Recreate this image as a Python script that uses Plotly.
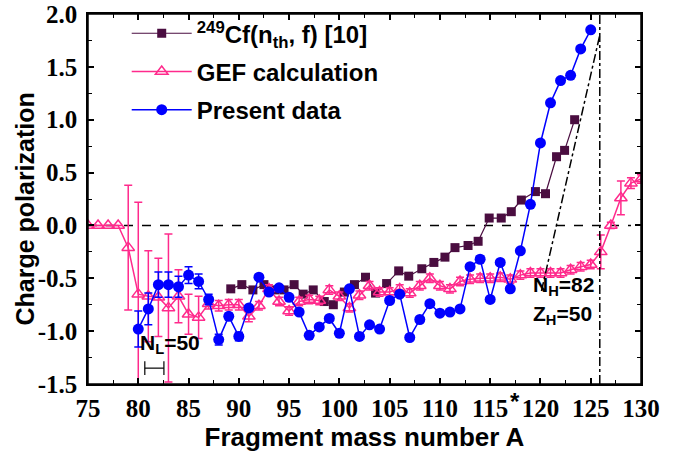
import plotly.graph_objects as go

# ---------------- data ----------------
A_present = list(range(80, 126))
present = [-0.98, -0.79, -0.56, -0.56, -0.58, -0.47, -0.53, -0.70, -1.08, -0.86,
           -1.05, -0.78, -0.49, -0.63, -0.59, -0.68, -0.82, -1.04, -0.96, -0.88,
           -1.02, -0.60, -1.05, -0.94, -0.98, -0.71, -0.65, -1.06, -0.89, -0.74,
           -0.83, -0.82, -0.79, -0.39, -0.32, -0.70, -0.35, -0.60, -0.24, 0.20,
           0.78, 1.16, 1.37, 1.42, 1.67, 1.85]
present_err = [0.17, 0.15, 0.12, 0.12, 0.10, 0.08, 0.07, 0.05, 0.05, 0.03,
               0.04] + [0.02] * 35

A_gef = list(range(75, 131))
gef = [0.0, 0.0, 0.0, 0.0, -0.21, -0.65, -0.67, -0.68, -0.78, -0.67,
       -0.84, -0.87, -0.74, -0.76, -0.75, -0.75, -0.86, -0.76, -0.60, -0.72,
       -0.81, -0.72, -0.70, -0.71, -0.61, -0.67, -0.78, -0.66, -0.57, -0.63,
       -0.63, -0.60, -0.64, -0.57, -0.50, -0.57, -0.60, -0.53, -0.51, -0.50,
       -0.50, -0.49, -0.51, -0.47, -0.45, -0.45, -0.45, -0.45, -0.42, -0.39,
       -0.37, -0.25, 0.0, 0.26, 0.40, 0.44]
gef_err = [0.0, 0.0, 0.0, 0.0, 0.59, 0.87, 0.43, 0.37, 0.70, 0.25,
           0.19, 0.20, 0.05, 0.05, 0.05, 0.05, 0.05] + [0.04] * 34 + [0.16, 0.03, 0.16, 0.05, 0.04]

A_cf = [89.2, 90.3, 91.4, 92.5, 93.6, 94.5, 95.5, 96.4, 97.4, 98.5, 99.4,
        100.5, 101.5, 102.6, 103.6, 104.7, 105.9, 106.9, 108.2, 109.4, 110.5,
        111.5, 112.8, 113.8, 114.9, 116.1, 117.1, 118.1, 119.5, 120.5, 121.6,
        122.4, 123.4]
cf = [-0.60, -0.56, -0.61, -0.56, -0.61, -0.61, -0.56, -0.65, -0.61, -0.72,
      -0.75, -0.63, -0.56, -0.49, -0.64, -0.55, -0.43, -0.48, -0.41, -0.35,
      -0.30, -0.21, -0.19, -0.15, 0.07, 0.07, 0.13, 0.24, 0.32, 0.30,
      0.65, 0.71, 1.00]

x_ticks = list(range(75, 131, 5))
x_ticktext = [str(v) for v in x_ticks]
y_ticks = [-1.5, -1.0, -0.5, 0.0, 0.5, 1.0, 1.5, 2.0]
y_ticktext = ["-1.5", "-1.0", "-0.5", "0.0", "0.5", "1.0", "1.5", "2.0"]

# guide lines (data coordinates)
zero_line_x = [75, 129]
shell_A = 125.9
diag_x = [120.1, 125.9]
diag_y = [-0.62, 1.80]
nl_bracket_x = [80.65, 82.55]
nl_bracket_y = -1.35

C_CF = "#4a0d40"
C_GEF = "#ff2a8c"
C_PRES = "#0000ff"

fig = go.Figure()

fig.add_trace(go.Scatter(
    x=A_cf, y=cf, mode="lines+markers", name="<sup>249</sup>Cf(n<sub>th</sub>, f) [10]",
    legendgroup="cf",
    line=dict(color=C_CF, width=1.2),
    marker=dict(symbol="square", size=9, color=C_CF),
))
fig.add_trace(go.Scatter(
    x=A_gef, y=gef, mode="lines+markers", name="GEF calculation",
    legendgroup="gef",
    line=dict(color=C_GEF, width=1.5),
    marker=dict(symbol="triangle-up-open", size=11, color=C_GEF, line=dict(width=1.5)),
    error_y=dict(type="data", array=gef_err, color=C_GEF, thickness=1.5, width=4),
))
fig.add_trace(go.Scatter(
    x=A_present, y=present, mode="lines+markers", name="Present data",
    legendgroup="pres",
    line=dict(color=C_PRES, width=1.5),
    marker=dict(symbol="circle", size=11, color=C_PRES),
    error_y=dict(type="data", array=present_err, color=C_PRES, thickness=1.5, width=4),
))

shapes = [
    dict(type="rect", xref="paper", yref="paper", x0=0, x1=1, y0=0, y1=1,
         line=dict(color="black", width=1.5), layer="above"),
    dict(type="line", xref="x", yref="y", x0=zero_line_x[0], x1=zero_line_x[1], y0=0, y1=0,
         line=dict(color="black", width=1.5, dash="dash"), layer="below"),
    dict(type="line", xref="x", yref="paper", x0=shell_A, x1=shell_A, y0=0, y1=1,
         line=dict(color="black", width=1.5, dash="dashdot")),
    dict(type="line", xref="x", yref="y", x0=diag_x[0], x1=diag_x[1], y0=diag_y[0], y1=diag_y[1],
         line=dict(color="black", width=1.5, dash="dashdot")),
    dict(type="line", xref="x", yref="y", x0=nl_bracket_x[0], x1=nl_bracket_x[1],
         y0=nl_bracket_y, y1=nl_bracket_y, line=dict(color="black", width=1.2)),
    dict(type="line", xref="x", yref="y", x0=nl_bracket_x[0], x1=nl_bracket_x[0],
         y0=nl_bracket_y - 0.065, y1=nl_bracket_y + 0.065, line=dict(color="black", width=1.2)),
    dict(type="line", xref="x", yref="y", x0=nl_bracket_x[1], x1=nl_bracket_x[1],
         y0=nl_bracket_y - 0.065, y1=nl_bracket_y + 0.065, line=dict(color="black", width=1.2)),
]

ann_font = dict(family="Liberation Sans", size=21, color="black", weight="bold")
title_font = dict(family="Liberation Sans", size=25, color="black", weight="bold")
annotations = [
    dict(x=80.0, y=-1.12, xref="x", yref="y", xanchor="left", text="N<sub>L</sub>=50",
         showarrow=False, font=ann_font),
    dict(x=119.1, y=-0.57, xref="x", yref="y", xanchor="left", text="N<sub>H</sub>=82",
         showarrow=False, font=ann_font),
    dict(x=119.1, y=-0.85, xref="x", yref="y", xanchor="left", text="Z<sub>H</sub>=50",
         showarrow=False, font=ann_font),
    dict(x=0.785, y=-0.088, xref="paper", yref="paper", text="*", showarrow=False,
         font=dict(family="Liberation Sans", size=24, color="black", weight="bold")),
    dict(x=-0.114, y=0.474, xref="paper", yref="paper", xanchor="center", yanchor="middle",
         text="Charge polarization", textangle=-90, showarrow=False, font=title_font),
]

axis_common = dict(
    showline=True, linecolor="black", linewidth=1.5, mirror="ticks",
    ticks="inside", ticklen=6, tickwidth=1.5, tickcolor="black",
    showgrid=False, zeroline=False, automargin=False, ticklabeloverflow="allow",
    tickfont=dict(family="Liberation Serif", size=25, color="black", weight="bold"),
)

fig.update_layout(
    width=691, height=453,
    margin=dict(l=88, r=50, t=13, b=69),
    paper_bgcolor="white", plot_bgcolor="white",
    showlegend=True,
    legend=dict(x=0.07, y=1.005, xanchor="left", yanchor="top", itemwidth=60,
                bgcolor="rgba(0,0,0,0)", tracegroupgap=4,
                font=dict(family="Liberation Sans", size=24, color="black", weight="bold")),
    xaxis=dict(range=[75, 130], tickmode="array", tickvals=x_ticks, ticktext=x_ticktext,
               minor=dict(tickmode="linear", tick0=75, dtick=2.5, ticks="inside", ticklen=4,
                          tickcolor="black", tickwidth=1.2),
               title=dict(text="Fragment mass number A", standoff=6,
                          font=dict(family="Liberation Sans", size=26, color="black", weight="bold")),
               ticklabelstandoff=1,
               **axis_common),
    yaxis=dict(range=[-1.5, 2.0], tickmode="array", tickvals=y_ticks, ticktext=y_ticktext,
               minor=dict(tickmode="linear", tick0=-1.5, dtick=0.25, ticks="inside", ticklen=4,
                          tickcolor="black", tickwidth=1.2),
               ticklabelstandoff=4,
               **axis_common),
    shapes=shapes,
    annotations=annotations,
)

fig.write_html("out.html", config={"displayModeBar": False},
               post_script="document.body.style.margin='0';")
